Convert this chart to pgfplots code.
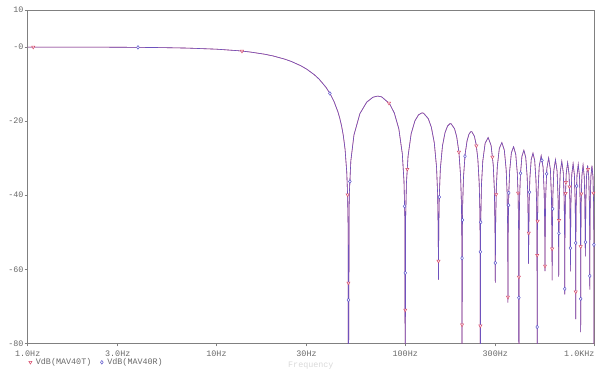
\documentclass[border=0pt]{standalone}
\usepackage{fontspec}
\setmainfont{Liberation Mono}
\usepackage{pgfplots}
\usepackage{pgfplotstable}
\pgfplotsset{compat=1.18}
\definecolor{tcol}{RGB}{214,72,104}
\definecolor{rcol}{RGB}{92,84,204}
\definecolor{axgray}{RGB}{128,128,128}
\definecolor{labgray}{RGB}{105,105,105}

\pgfplotstableread{
f db
1 -0.006
2 -0.023
3 -0.052
5 -0.143
7 -0.282
10 -0.579
13 -0.988
15 -1.326
18 -1.938
20 -2.420
23 -3.267
25 -3.922
28 -5.062
30 -5.942
33 -7.481
35 -8.686
38 -10.851
40 -12.621
42 -14.772
44 -17.513
45 -19.228
46 -21.306
47 -23.95
48 -27.63
49 -33.81
49.5 -39.91
49.8 -47.92
50 -100
50.5 -40.08
51.5 -30.72
53.5 -23.75
57.5 -18.00
62.5 -14.88
67.5 -13.54
71.5 -13.24
75 -13.45
82.5 -15.27
87.5 -17.79
92.5 -22.12
96.5 -28.85
98.5 -36.33
99.5 -45.95
100 -100
100.5 -46.03
101.5 -36.59
103.5 -29.45
107.5 -23.41
112.5 -19.95
117.5 -18.32
122.5 -17.78
125 -17.85
132.5 -19.35
137.5 -21.67
142.5 -25.83
146.5 -32.43
148.5 -39.85
149.5 -49.44
150 -62.8
150.5 -49.49
151.5 -40.02
153.5 -32.83
157.5 -26.68
162.5 -23.10
167.5 -21.35
172.5 -20.70
175 -20.72
182.5 -22.07
187.5 -24.31
192.5 -28.38
196.5 -34.92
198.5 -42.31
199.5 -51.88
200 -100
200.5 -51.92
201.5 -42.44
203.5 -35.21
207.5 -29.01
212.5 -25.36
217.5 -23.55
222.5 -22.84
225 -22.83
232.5 -24.10
237.5 -26.29
242.5 -30.31
246.5 -36.81
248.5 -44.18
249.5 -53.74
250 -100
251 -47.77
253.5 -37.03
257.5 -30.78
265 -25.98
275 -24.44
285 -26.58
292.5 -31.82
296.5 -38.30
299 -49.19
300 -63.6
301 -49.25
303.5 -38.49
307.5 -32.22
315 -27.39
325 -25.79
335 -27.88
342.5 -33.08
346.5 -39.54
349 -50.42
350 -69
351 -50.46
353.5 -39.70
357.5 -33.42
365 -28.55
375 -26.92
385 -28.96
392.5 -34.13
396.5 -40.58
399 -51.45
400 -100
401 -51.48
403.5 -40.71
407.5 -34.42
415 -29.53
425 -27.86
435 -29.87
442.5 -35.02
446.5 -41.46
449 -52.32
450 -58.5
451 -52.35
453.5 -41.57
457.5 -35.26
465 -30.35
475 -28.66
485 -30.65
492.5 -35.78
496.5 -42.20
499 -53.06
500 -100
501.5 -49.58
505 -39.29
512.5 -32.20
525 -29.35
537.5 -32.51
545 -39.80
548.5 -50.17
550 -60.5
551.5 -50.21
555 -39.92
562.5 -32.81
575 -29.93
587.5 -33.08
595 -40.35
598.5 -50.72
600 -63
601.5 -50.75
605 -40.45
612.5 -33.33
625 -30.43
637.5 -33.55
645 -40.81
648.5 -51.17
650 -62
651.5 -51.20
655 -40.90
662.5 -33.76
675 -30.85
687.5 -33.95
695 -41.20
698.5 -51.56
700 -66.8
701.5 -51.58
705 -41.27
712.5 -34.13
725 -31.20
737.5 -34.29
745 -41.52
748.5 -51.88
750 -60.6
751.5 -51.89
755 -41.58
762.5 -34.43
775 -31.48
787.5 -34.55
795 -41.78
798.5 -52.13
800 -73.5
801.5 -52.14
805 -41.83
812.5 -34.66
825 -31.70
837.5 -34.76
845 -41.98
848.5 -52.32
850 -77
851.5 -52.33
855 -42.01
862.5 -34.84
875 -31.87
887.5 -34.91
895 -42.12
898.5 -52.46
900 -56.5
901.5 -52.47
905 -42.14
912.5 -34.96
925 -31.97
937.5 -35.00
945 -42.21
948.5 -52.54
950 -65.5
951.5 -52.55
955 -42.22
962.5 -35.03
975 -32.03
987.5 -35.05
995 -42.24
998.5 -52.57
1000 -100
}\curve

\pgfplotstableread{
f db
1.07 -0.01
13.65 -1.10
82 -15.15
49.5 -39.9
50 -63.7
102.5 -33.0
100 -71
150 -57.8
192.5 -28.38
238 -26.69
289.5 -29.72
303.2 -39.8
200 -75
250 -75.3
350 -67.5
395.8 -39.4
400 -62.1
451.5 -50.2
502.4 -47
500 -56.2
550 -59.1
600 -54.5
653 -46.8
710 -36.5
706.9 -39.5
741 -37.7
800 -66.1
850 -53.9
857.5 -39.6
929.4 -33.0
992 -39.4
}\tmarks

\pgfplotstableread{
f db
3.84 -0.09
39.9 -12.53
50.9 -36.3
50 -68.3
99.2 -43.0
100 -61
207.2 -29.48
151.45 -40.5
201.05 -46.7
200 -57
251.1 -47.3
250 -55.3
300 -58.3
353.7 -39.39
352.8 -42.71
400 -67.7
408 -34.09
455 -39.2
500 -75.6
530 -30.61
561 -34.23
603.9 -43.69
651.8 -50.3
700 -65.3
750 -54.3
809.5 -37.53
800 -52.9
850 -68
901.4 -52.7
950 -61.8
998.53 -53.4
}\rmarks

\begin{document}
\begin{tikzpicture}[x=1pt,y=1pt]
\begin{axis}[
  at={(27.7pt,26.7pt)}, anchor=south west,
  scale only axis, width=566.3pt, height=333.3pt,
  xmode=log, xmin=1, xmax=1000, ymin=-80, ymax=10,
  xtick={1,3,10,30,100,300},
  xticklabels={1.0Hz,3.0Hz,10Hz,30Hz,100Hz,300Hz},
  extra x ticks={1000}, extra x tick labels={1.0KHz},
  extra x tick style={xticklabel style={anchor=north east, xshift=4pt}},
  ytick={-80,-60,-40,-20,0,10},
  yticklabels={-80,-60,-40,-20,-0,10},
  xminorticks=false, yminorticks=false,
  tick pos=left, tick align=outside, major tick length=3pt,
  axis line style={axgray, line width=0.6pt},
  tick style={axgray, line width=0.6pt},
  tick label style={font=\fontsize{8.4}{9}\selectfont, text=labgray},
  yticklabel style={inner sep=1pt},
  xticklabel style={yshift=-1pt},
  /pgf/number format/assume math mode=true,
  xlabel={Frequency},
  xlabel style={font=\fontsize{8.4}{9}\selectfont, text=black!15, yshift=7pt},
  legend columns=2,
  legend style={draw=none, fill=none, at={(0,0)}, anchor=west,
    yshift=-19pt, xshift=0pt, inner sep=0pt,
    font=\fontsize{8.4}{9}\selectfont, text=labgray,
    /tikz/every even column/.append style={column sep=6pt}},
  legend image code/.code={\path[draw=none,fill=none] (0pt,-0.5pt) rectangle (6pt,0.5pt); \draw[#1] plot coordinates {(2.5pt,0pt)};},
]
\addplot[tcol, line width=0.6pt, forget plot] table[x=f,y=db]{\curve};
\addplot[rcol, line width=0.6pt, opacity=0.85, forget plot] table[x=f,y=db]{\curve};
\addplot[only marks, mark=triangle*, mark options={rotate=180, draw=tcol, fill=white, line width=0.5pt}, mark size=1.8pt] table[x=f,y=db]{\tmarks};
\addlegendentry{VdB(MAV40T)}
\addplot[only marks, mark=diamond*, mark options={draw=rcol, fill=white, line width=0.5pt}, mark size=1.8pt] table[x=f,y=db]{\rmarks};
\addlegendentry{VdB(MAV40R)}
\end{axis}
\pgfresetboundingbox
\path[use as bounding box] (0,0) rectangle (604pt,370pt);
\end{tikzpicture}
\end{document}
